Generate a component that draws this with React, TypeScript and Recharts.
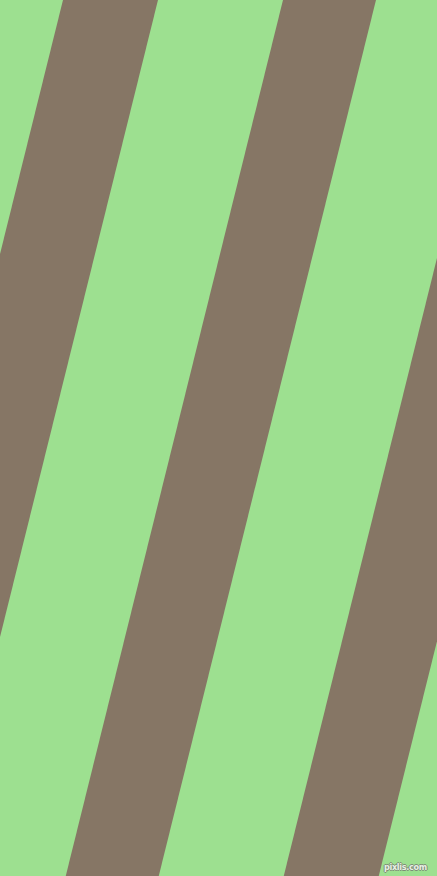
import React from "react";
import { ComposedChart, Area, XAxis, YAxis, ReferenceArea } from "recharts";

// Stripe edges measured where they cross the top edge (y = 0), in px of the 437x876 frame
const stripeLeftAtTop = [63, 283, 501];
const stripeRightAtTop = [158, 376, 596];
// horizontal shift per vertical pixel (stripes lean to the right going up)
const stripeSlope = 0.248;
const sampleX = [0, 437];
const frameWidth = 437;
const frameHeight = 876;

const GREEN = "#9de090";
const BROWN = "#867665";

const data = sampleX.map((x) => {
  const row: Record<string, number | number[]> = { x };
  stripeLeftAtTop.forEach((l, i) => {
    const r = stripeRightAtTop[i];
    row["s" + i] = [(l - x) / stripeSlope, (r - x) / stripeSlope];
  });
  return row;
});

export default function App() {
  return (
    <div
      style={{
        position: "absolute",
        left: 0,
        top: 0,
        width: frameWidth,
        height: frameHeight,
        overflow: "hidden",
      }}
    >
      <ComposedChart
        width={frameWidth}
        height={frameHeight}
        data={data}
        margin={{ top: 0, right: 0, bottom: 0, left: 0 }}
      >
        <XAxis dataKey="x" type="number" domain={[0, frameWidth]} allowDataOverflow hide />
        <YAxis type="number" domain={[0, frameHeight]} reversed allowDataOverflow hide />
        <ReferenceArea
          x1={0}
          x2={frameWidth}
          y1={0}
          y2={frameHeight}
          fill={GREEN}
          fillOpacity={1}
          stroke="none"
          ifOverflow="hidden"
        />
        {stripeLeftAtTop.map((_, i) => (
          <Area
            key={i}
            dataKey={"s" + i}
            type="linear"
            fill={BROWN}
            fillOpacity={1}
            stroke="none"
            isAnimationActive={false}
            dot={false}
            activeDot={false}
          />
        ))}
      </ComposedChart>
      <div
        style={{
          position: "absolute",
          right: 10,
          bottom: 4,
          fontFamily: "DejaVu Sans Condensed, DejaVu Sans, sans-serif",
          fontWeight: "bold",
          fontSize: 9,
          letterSpacing: -0.3,
          color: "#e8f0e4",
          textShadow:
            "1px 0 0 #7d8c78, -1px 0 0 #7d8c78, 0 1px 0 #7d8c78, 0 -1px 0 #7d8c78",
          lineHeight: "10px",
        }}
      >
        pixlis.com
      </div>
    </div>
  );
}
